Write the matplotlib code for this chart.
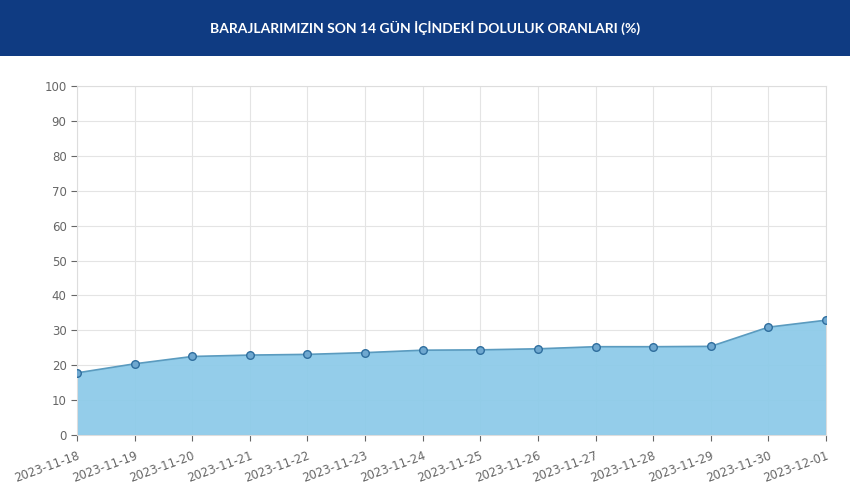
import matplotlib
matplotlib.use("Agg")
import matplotlib.pyplot as plt
from matplotlib.patches import Rectangle

dates = [
    "2023-11-18", "2023-11-19", "2023-11-20", "2023-11-21", "2023-11-22",
    "2023-11-23", "2023-11-24", "2023-11-25", "2023-11-26", "2023-11-27",
    "2023-11-28", "2023-11-29", "2023-11-30", "2023-12-01",
]
doluluk = [17.8, 20.4, 22.5, 22.9, 23.1, 23.6, 24.3, 24.4, 24.7, 25.3,
           25.3, 25.4, 30.9, 32.9]
y_ticks = list(range(0, 101, 10))

fig = plt.figure(figsize=(8.5, 5.0), dpi=100)
fig.patch.set_facecolor("white")

# header band
fig.patches.append(Rectangle((0.0, 0.888), 1.0, 0.112, transform=fig.transFigure,
                             facecolor="#0f3b82", edgecolor="none", zorder=-1))
fig.text(0.5, 0.944, "BARAJLARIMIZIN SON 14 GÜN İÇİNDEKİ DOLULUK ORANLARI (%)",
         ha="center", va="center", color="white", fontsize=10, fontweight="bold",
         family="Lato")

ax = fig.add_axes([77 / 850, 65 / 500, 749 / 850, 349 / 500])
ax.set_zorder(2)
x = list(range(len(dates)))
ax.fill_between(x, doluluk, 0, color="#8ecbe9", alpha=0.95, zorder=2)
ax.plot(x, doluluk, color="#5b9bbf", lw=1.2, zorder=3)
ax.scatter(x, doluluk, s=30, facecolor="#6fa8d0", edgecolor="#2f6e9e", lw=1, zorder=4)

ax.set_xlim(0, len(dates) - 1)
ax.set_ylim(0, 100)
ax.set_yticks(y_ticks)
ax.set_xticks(x)
ax.set_xticklabels(dates, rotation=20, ha="right", rotation_mode="anchor")
ax.tick_params(colors="#666666", labelsize=8.5, length=4)
ax.tick_params(axis="x", pad=6)
ax.grid(True, color="#e4e4e4", lw=0.8, zorder=0)
for s in ax.spines.values():
    s.set_color("#dddddd")

fig.savefig("out.png", dpi=100)
